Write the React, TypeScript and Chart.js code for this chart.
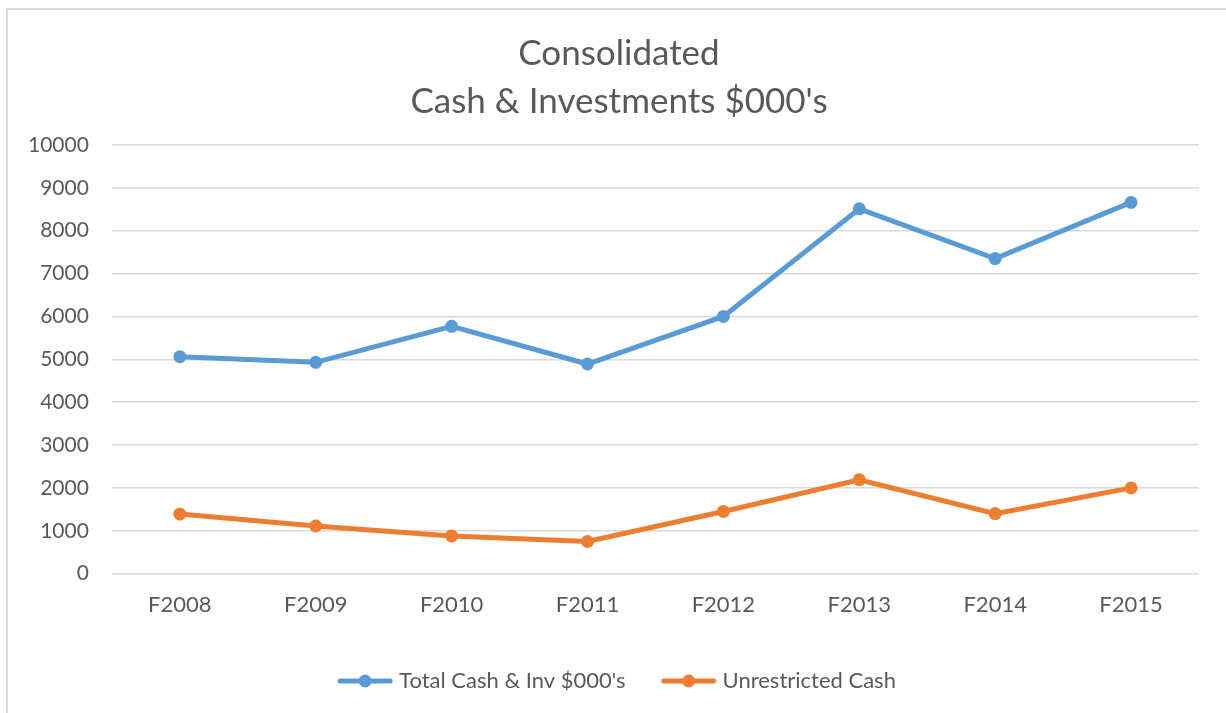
import React, { useEffect, useRef } from "react";
import { Chart, registerables } from "chart.js";

Chart.register(...registerables);

const categories = ["F2008", "F2009", "F2010", "F2011", "F2012", "F2013", "F2014", "F2015"];
const totalCashInv = [5060, 4930, 5770, 4890, 6000, 8510, 7350, 8660];
const unrestrictedCash = [1390, 1110, 880, 750, 1450, 2190, 1400, 2000];
const titleLines = ["Consolidated", "Cash & Investments $000's"];
const seriesNames = ["Total Cash & Inv $000's", "Unrestricted Cash"];

const BLUE = "#5b9bd5";
const ORANGE = "#ed7d31";
const TEXT = "#595959";
const GRID = "#d9d9d9";
const FONT = "Lato";

function legendMarker(color: string): HTMLCanvasElement {
  const c = document.createElement("canvas");
  c.width = 56;
  c.height = 14;
  const ctx = c.getContext("2d")!;
  ctx.strokeStyle = color;
  ctx.lineWidth = 5;
  ctx.lineCap = "round";
  ctx.beginPath();
  ctx.moveTo(3, 7);
  ctx.lineTo(53, 7);
  ctx.stroke();
  ctx.fillStyle = color;
  ctx.beginPath();
  ctx.arc(28, 7, 6.5, 0, Math.PI * 2);
  ctx.fill();
  return c;
}

const framePlugin = {
  id: "frame",
  afterLayout(chart: any) {
    // let the y tick labels use the space left of the axis box (avoid label clipping)
    if (chart.scales.y) chart.scales.y.left = 0;
  },
  beforeDraw(chart: any) {
    const ctx = chart.ctx;
    ctx.save();
    ctx.fillStyle = "#ffffff";
    ctx.fillRect(0, 0, chart.width, chart.height);
    ctx.strokeStyle = GRID;
    ctx.lineWidth = 2;
    ctx.beginPath();
    ctx.moveTo(7, chart.height);
    ctx.lineTo(7, 9);
    ctx.lineTo(chart.width, 9);
    ctx.stroke();
    ctx.restore();
  },
};

export default function App() {
  const ref = useRef<HTMLCanvasElement>(null);
  useEffect(() => {
    document.body.style.margin = "0";
    const markers = [legendMarker(BLUE), legendMarker(ORANGE)];
    const chart = new Chart(ref.current!, {
      type: "line",
      data: {
        labels: categories,
        datasets: [
          {
            label: seriesNames[0],
            data: totalCashInv,
            borderColor: BLUE,
            backgroundColor: BLUE,
            borderWidth: 5,
            pointRadius: 6.5,
            pointBackgroundColor: BLUE,
            pointBorderWidth: 0,
            tension: 0,
          },
          {
            label: seriesNames[1],
            data: unrestrictedCash,
            borderColor: ORANGE,
            backgroundColor: ORANGE,
            borderWidth: 5,
            pointRadius: 6.5,
            pointBackgroundColor: ORANGE,
            pointBorderWidth: 0,
            tension: 0,
          },
        ],
      },
      options: {
        responsive: false,
        animation: false,
        layout: { padding: { top: 4, left: 39, right: 27, bottom: 11 } },
        plugins: {
          tooltip: { enabled: false },
          title: {
            display: true,
            text: titleLines,
            color: TEXT,
            font: { family: FONT, size: 35, weight: "normal", lineHeight: 48 / 35 },
            padding: { top: 26, bottom: 19 },
          },
          legend: {
            position: "bottom",
            labels: {
              color: TEXT,
              font: { family: FONT, size: 22 },
              usePointStyle: true,
              pointStyleWidth: 46,
              padding: 40,
              generateLabels: (chart: any) =>
                chart.data.datasets.map((ds: any, i: number) => ({
                  text: ds.label,
                  fillStyle: ds.borderColor,
                  strokeStyle: ds.borderColor,
                  lineWidth: 0,
                  pointStyle: markers[i],
                  hidden: false,
                  datasetIndex: i,
                  fontColor: TEXT,
                })),
            },
          },
        },
        scales: {
          x: {
            offset: true,
            grid: { display: false, drawTicks: false },
            border: { display: false },
            ticks: { color: TEXT, font: { family: FONT, size: 22 }, padding: 18, maxRotation: 0 },
            afterFit: (scale: any) => {
              scale.height -= 6;
            },
          },
          y: {
            min: 0,
            max: 10000,
            grid: { color: GRID, lineWidth: 1.5, drawTicks: false },
            border: { display: false },
            ticks: {
              stepSize: 1000,
              color: TEXT,
              font: { family: FONT, size: 21 },
              padding: 23,
              callback: (v: any) => String(v),
            },
            afterFit: (scale: any) => {
              scale.width -= 34;
            },
          },
        },
      },
      plugins: [framePlugin],
    });
    return () => chart.destroy();
  }, []);
  return <canvas ref={ref} width={1226} height={713} style={{ display: "block" }} />;
}
